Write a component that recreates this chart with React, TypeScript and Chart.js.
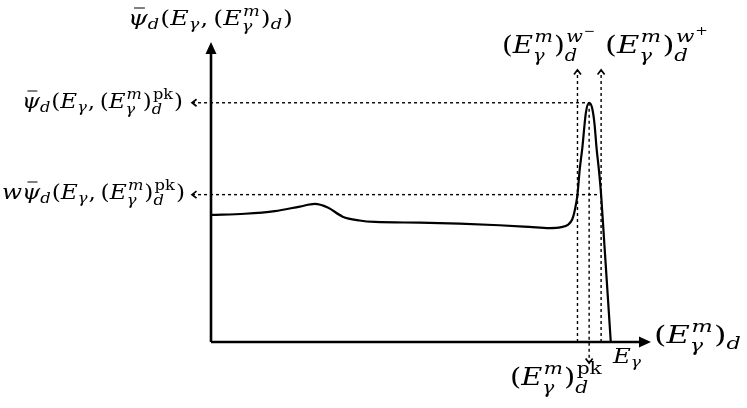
import React, { useEffect, useRef } from 'react';
import { Chart, registerables } from 'chart.js';

Chart.register(...registerables);

// ---- data (schematic units: E in 0..100, psi normalised to peak = 1) ----
const curveE = [0, 7.71, 14.51, 20.18, 23.58, 26.53, 29.93, 33.79, 37.19, 47.39, 56.46, 65.53, 72.34, 76.87, 79.59, 81.18, 82.09, 82.54, 83.0, 83.29, 83.79, 84.42, 85.19, 85.94, 86.62, 87.19, 87.6, 88.21, 88.66, 89.34, 90.14, 90.86];
const curvePsi = [0.531, 0.536, 0.547, 0.566, 0.577, 0.562, 0.524, 0.508, 0.502, 0.499, 0.495, 0.488, 0.481, 0.476, 0.48, 0.491, 0.512, 0.539, 0.581, 0.616, 0.719, 0.816, 0.957, 1.0, 0.978, 0.907, 0.816, 0.71, 0.616, 0.426, 0.202, 0];
const ePeak = 85.94;
const eWMinus = 83.29;
const eWPlus = 88.66;
const psiPeak = 1.0;
const psiW = 0.616;
const xMax = 100;
const yMax = 1.254;
const leftArrowE = -4.31;
const topArrowPsi = 1.137;
const bottomArrowPsi = -0.088;

type MNode = { t: string; it?: boolean; bar?: boolean } | { sup?: MNode[]; sub?: MNode[] };
const FONT = '"DejaVu Serif", "Liberation Serif", serif';

function fontFor(n: any, size: number) {
  return `${n.it ? 'italic ' : ''}${size}px ${FONT}`;
}
function measure(ctx: CanvasRenderingContext2D, nodes: MNode[], size: number): number {
  let w = 0;
  for (const n of nodes as any[]) {
    if ('t' in n) {
      ctx.font = fontFor(n, size);
      w += ctx.measureText(n.t).width;
    } else {
      const s = size * 0.7;
      w += Math.max(n.sup ? measure(ctx, n.sup, s) + size * 0.05 : 0, n.sub ? measure(ctx, n.sub, s) : 0) + size * 0.04;
    }
  }
  return w;
}
function drawMath(ctx: CanvasRenderingContext2D, nodes: MNode[], x: number, y: number, size: number): number {
  for (const n of nodes as any[]) {
    if ('t' in n) {
      ctx.font = fontFor(n, size);
      ctx.fillText(n.t, x, y);
      const w = ctx.measureText(n.t).width;
      if (n.bar) {
        ctx.save();
        ctx.lineWidth = Math.max(1, size * 0.05);
        ctx.beginPath();
        ctx.moveTo(x + w * 0.3, y - size * 0.85);
        ctx.lineTo(x + w * 0.85, y - size * 0.85);
        ctx.stroke();
        ctx.restore();
      }
      x += w;
    } else {
      const s = size * 0.7;
      const both = n.sup && n.sub;
      let end = x;
      if (n.sup) end = Math.max(end, drawMath(ctx, n.sup, x + size * 0.05, y - size * (both ? 0.44 : 0.4), s));
      if (n.sub) end = Math.max(end, drawMath(ctx, n.sub, x, y + size * (both ? 0.3 : 0.22), s));
      x = end + size * 0.04;
    }
  }
  return x;
}

const Eg: MNode[] = [{ t: 'E', it: true }, { sub: [{ t: 'γ', it: true }] }];
const EmBase: MNode[] = [{ t: '(' }, { t: 'E', it: true }, { sup: [{ t: 'm', it: true }], sub: [{ t: 'γ', it: true }] }, { t: ')' }];
const EmD: MNode[] = [...EmBase, { sub: [{ t: 'd', it: true }] }];
const EmPk: MNode[] = [...EmBase, { sup: [{ t: 'pk' }], sub: [{ t: 'd', it: true }] }];
const EmWMinus: MNode[] = [...EmBase, { sup: [{ t: 'w', it: true }, { sup: [{ t: '−' }] }], sub: [{ t: 'd', it: true }] }];
const EmWPlus: MNode[] = [...EmBase, { sup: [{ t: 'w', it: true }, { sup: [{ t: '+' }] }], sub: [{ t: 'd', it: true }] }];
const psiBar: MNode[] = [{ t: 'ψ', it: true, bar: true }, { sub: [{ t: 'd', it: true }] }];
const yLabel: MNode[] = [...psiBar, { t: '(' }, ...Eg, { t: ',\u2009' }, ...EmD, { t: ')' }];
const peakLabel: MNode[] = [...psiBar, { t: '(' }, ...Eg, { t: ',\u2009' }, ...EmPk, { t: ')' }];
const wLabel: MNode[] = [{ t: 'w', it: true }, ...peakLabel];

function arrowHead(ctx: CanvasRenderingContext2D, x: number, y: number, dx: number, dy: number, len: number, half: number, filled: boolean) {
  const px = -dy, py = dx;
  ctx.beginPath();
  ctx.moveTo(x - dx * len + px * half, y - dy * len + py * half);
  ctx.lineTo(x, y);
  ctx.lineTo(x - dx * len - px * half, y - dy * len - py * half);
  if (filled) {
    ctx.closePath();
    ctx.fill();
  } else {
    ctx.stroke();
  }
}

const decorations = {
  id: 'decorations',
  afterDraw(chart: any) {
    const ctx: CanvasRenderingContext2D = chart.ctx;
    const xs = chart.scales.x;
    const ys = chart.scales.y;
    const X = (v: number) => xs.getPixelForValue(v);
    const Y = (v: number) => ys.getPixelForValue(v);
    ctx.save();
    ctx.fillStyle = '#000';
    ctx.strokeStyle = '#000';
    // axis arrowheads
    arrowHead(ctx, X(xMax), Y(0), 1, 0, 12, 5.5, true);
    arrowHead(ctx, X(0), Y(yMax), 0, -1, 12, 5.5, true);
    // dashed arrowheads
    ctx.lineWidth = 1.7;
    ctx.lineJoin = 'miter';
    arrowHead(ctx, X(leftArrowE), Y(psiPeak), -1, 0, 4.5, 3.5, false);
    arrowHead(ctx, X(leftArrowE), Y(psiW), -1, 0, 4.5, 3.5, false);
    arrowHead(ctx, X(eWMinus), Y(topArrowPsi), 0, -1, 4.5, 3.5, false);
    arrowHead(ctx, X(eWPlus), Y(topArrowPsi), 0, -1, 4.5, 3.5, false);
    arrowHead(ctx, X(ePeak), Y(bottomArrowPsi), 0, 1, 4.5, 3.5, false);
    // labels, fitted to the reference widths
    ctx.textBaseline = 'alphabetic';
    const put = (nodes: MNode[], size: number, left: number, right: number, base: number) => {
      const w = measure(ctx, nodes, size);
      ctx.save();
      ctx.translate(left, base);
      ctx.scale((right - left) / w, 1);
      drawMath(ctx, nodes, 0, 0, size);
      ctx.restore();
    };
    put(yLabel, 20, 128, 293, 25);
    put(peakLabel, 20, 22, 183, 108);
    put(wLabel, 20, 2, 185, 199);
    put(EmWMinus, 25, 502, 597, 53);
    put(EmWPlus, 25, 605, 710, 53);
    put(EmD, 25, X(xMax) + 3, 742, 343);
    put(Eg, 20, 613, 642, 363);
    put(EmPk, 25, 510, 603, 385);
    ctx.restore();
  },
};

export default function App() {
  const ref = useRef<HTMLCanvasElement>(null);
  useEffect(() => {
    if (!ref.current) return;
    const dashed = (pts: { x: number; y: number }[]) => ({
      data: pts,
      borderColor: '#000',
      borderWidth: 1.4,
      borderDash: [3, 3],
      pointRadius: 0,
      clip: false as any,
      tension: 0,
    });
    const chart = new Chart(ref.current, {
      type: 'line',
      data: {
        datasets: [
          {
            data: curveE.map((e, i) => ({ x: e, y: curvePsi[i] })),
            borderColor: '#000',
            borderWidth: 2.2,
            pointRadius: 0,
            cubicInterpolationMode: 'monotone',
            clip: false as any,
          },
          dashed([{ x: leftArrowE, y: psiPeak }, { x: ePeak, y: psiPeak }]),
          dashed([{ x: leftArrowE, y: psiW }, { x: eWPlus, y: psiW }]),
          dashed([{ x: eWMinus, y: 0 }, { x: eWMinus, y: topArrowPsi }]),
          dashed([{ x: eWPlus, y: 0 }, { x: eWPlus, y: topArrowPsi }]),
          dashed([{ x: ePeak, y: psiPeak }, { x: ePeak, y: bottomArrowPsi }]),
          { data: [{ x: 0, y: 0 }, { x: xMax - 2.5, y: 0 }], borderColor: '#000', borderWidth: 2.6, pointRadius: 0, clip: false as any },
          { data: [{ x: 0, y: 0 }, { x: 0, y: yMax - 0.04 }], borderColor: '#000', borderWidth: 2.6, pointRadius: 0, clip: false as any },
        ] as any,
      },
      options: {
        animation: false,
        responsive: false,
        maintainAspectRatio: false,
        layout: { padding: { left: 211, right: 96, top: 42, bottom: 66 } },
        plugins: { legend: { display: false }, tooltip: { enabled: false } },
        scales: {
          x: { type: 'linear', min: 0, max: xMax, display: false },
          y: { type: 'linear', min: 0, max: yMax, display: false },
        },
      },
      plugins: [decorations],
    });
    return () => chart.destroy();
  }, []);
  return (
    <div style={{ position: 'fixed', left: 0, top: 0, width: 747, height: 408, background: '#fff' }}>
      <canvas ref={ref} width={747} height={408} />
    </div>
  );
}
